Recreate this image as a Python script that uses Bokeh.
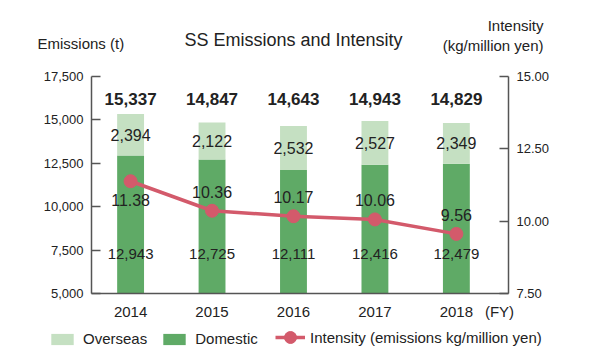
from bokeh.plotting import figure
from bokeh.models import (Range1d, LinearAxis, FixedTicker, NumeralTickFormatter, Label,
                          Legend, LegendItem, ColumnDataSource, CDSView, IndexFilter)
from bokeh.core.properties import value
from bokeh.embed import file_html
from bokeh.resources import INLINE

# ---- data ----
years = ["2014", "2015", "2016", "2017", "2018"]
domestic = [12943, 12725, 12111, 12416, 12479]
overseas = [2394, 2122, 2532, 2527, 2349]
totals = [15337, 14847, 14643, 14943, 14829]
intensity = [11.38, 10.36, 10.17, 10.06, 9.56]
left_ticks = [5000, 7500, 10000, 12500, 15000, 17500]
right_ticks = [7.5, 10.0, 12.5, 15.0]

# ---- styles / layout ----
FONT = "Liberation Sans"
TXT = "#222222"
AX = "#555555"
C_OVS = "#c5e0c2"
C_DOM = "#5faa66"
C_INT = "#d35a6b"
TOTAL_LABEL_Y = 16230
DOM_LABEL_Y = 7250
FY_POS = 4.53
W, H = 584, 353
PL, PR, PT, PB = 91, 508, 76, 293          # axis box in canvas pixels
X_LO, X_HI = -0.48, 4.64

Y_LO, Y_HI = left_ticks[0], left_ticks[-1]
R_LO, R_HI = right_ticks[0], right_ticks[-1]
kx = (PR - PL) / (X_HI - X_LO)
ky = (PB - PT) / (Y_HI - Y_LO)
kr = (PB - PT) / (R_HI - R_LO)

xs = list(range(len(years)))
src = ColumnDataSource(dict(
    x=xs,
    dom=domestic,
    top=[d + o for d, o in zip(domestic, overseas)],
    mid=[d + o / 2 for d, o in zip(domestic, overseas)],
    tot_lbl=[f"{t:,}" for t in totals],
    dom_lbl=[f"{d:,}" for d in domestic],
    ovs_lbl=[f"{o:,}" for o in overseas],
    inten=intensity,
    int_lbl=[f"{v:.2f}" for v in intensity],
))

p = figure(width=W, height=H,
           x_range=Range1d(X_LO - PL / kx, X_HI + (W - PR) / kx),
           y_range=Range1d(Y_LO - (H - PB) / ky, Y_HI + PT / ky),
           output_backend="svg", toolbar_location=None,
           min_border_left=0, min_border_right=0, min_border_top=0, min_border_bottom=0)
p.title_location = None
p.outline_line_color = None
p.xgrid.visible = False
p.ygrid.visible = False
p.extra_y_ranges = {"int": Range1d(R_LO - (H - PB) / kr, R_HI + PT / kr)}


def style_axis(ax, size="13px"):
    ax.minor_tick_line_color = None
    ax.axis_line_color = AX
    ax.axis_line_width = 1.5
    ax.major_tick_line_color = AX
    ax.major_tick_line_width = 1.5
    ax.major_label_text_font = FONT
    ax.major_label_text_font_size = size
    ax.major_label_text_color = TXT


ya = p.yaxis[0]
ya.ticker = FixedTicker(ticks=left_ticks)
ya.formatter = NumeralTickFormatter(format="0,0")
ya.bounds = (Y_LO, Y_HI)
ya.fixed_location = X_LO
ya.major_tick_in = 9
ya.major_tick_out = 0
ya.major_label_standoff = 8
style_axis(ya)

ra = LinearAxis(y_range_name="int", ticker=FixedTicker(ticks=right_ticks),
                formatter=NumeralTickFormatter(format="0.00"),
                bounds=(R_LO, R_HI), fixed_location=X_HI)
ra.major_tick_in = 9
ra.major_tick_out = 0
ra.major_label_standoff = 8
style_axis(ra)
p.add_layout(ra, "right")

xa = p.xaxis[0]
xa.ticker = FixedTicker(ticks=xs + [FY_POS])
overrides = {i: y for i, y in zip(xs, years)}
overrides[FY_POS] = "(FY)"
xa.major_label_overrides = overrides
xa.bounds = (X_LO, X_HI)
xa.fixed_location = Y_LO
xa.major_tick_in = 0
xa.major_tick_out = 0
xa.major_label_standoff = 9
style_axis(xa, "15px")

# bars (stacked; the axis starts at Y_LO)
r_dom = p.vbar(x="x", width=0.33, bottom=Y_LO, top="dom", source=src, fill_color=C_DOM, line_color=None)
r_ovs = p.vbar(x="x", width=0.33, bottom="dom", top="top", source=src, fill_color=C_OVS, line_color=None)
r_line = p.line(x="x", y="inten", source=src, y_range_name="int", line_color=C_INT, line_width=3.5)
r_pts = p.scatter(x="x", y="inten", source=src, y_range_name="int", size=13,
                  fill_color=C_INT, line_color=C_INT)

common = dict(text_font=value(FONT), text_color=TXT, text_align="center", text_baseline="middle")
p.text(x="x", y=TOTAL_LABEL_Y, text="tot_lbl", source=src, text_font_size="17px",
       text_font_style="bold", **common)
p.text(x="x", y="mid", text="ovs_lbl", source=src, text_font_size="16px", **common)
p.text(x="x", y=DOM_LABEL_Y, text="dom_lbl", source=src, text_font_size="15px", **common)
p.text(x="x", y="inten", text="int_lbl", source=src, y_range_name="int", y_offset=19,
       view=CDSView(filter=IndexFilter([0])), text_font_size="16px", **common)
p.text(x="x", y="inten", text="int_lbl", source=src, y_range_name="int", y_offset=-19,
       view=CDSView(filter=IndexFilter([1, 2, 3, 4])), text_font_size="16px", **common)


def lab(text, x, y, size, align="left"):
    p.add_layout(Label(text=text, x=x, y=y, x_units="canvas", y_units="canvas",
                       text_font=FONT, text_font_size=size, text_color=TXT,
                       text_align=align, text_baseline="middle"))


lab("SS Emissions and Intensity", 293, 39, "18px", "center")
lab("Emissions (t)", 37, 43, "15px")
lab("Intensity", 543, 25, "15px", "right")
lab("(kg/million yen)", 543, 45, "15px", "right")

leg_kw = dict(orientation="horizontal", padding=0, margin=0, border_line_color=None,
              background_fill_alpha=0, label_text_font=FONT, label_text_font_size="15px",
              label_text_color=TXT)
legA = Legend(items=[LegendItem(label="Overseas", renderers=[r_ovs]),
                     LegendItem(label="Domestic", renderers=[r_dom])],
              location=(48, 6), glyph_width=28, glyph_height=14, label_standoff=7, spacing=13, **leg_kw)
legB = Legend(items=[LegendItem(label="Intensity (emissions kg/million yen)", renderers=[r_line, r_pts])],
              location=(275, 1), glyph_width=30, glyph_height=30, label_standoff=5, spacing=0, **leg_kw)
p.add_layout(legA)
p.add_layout(legB)

open("out.html", "w").write(file_html(p, INLINE))
